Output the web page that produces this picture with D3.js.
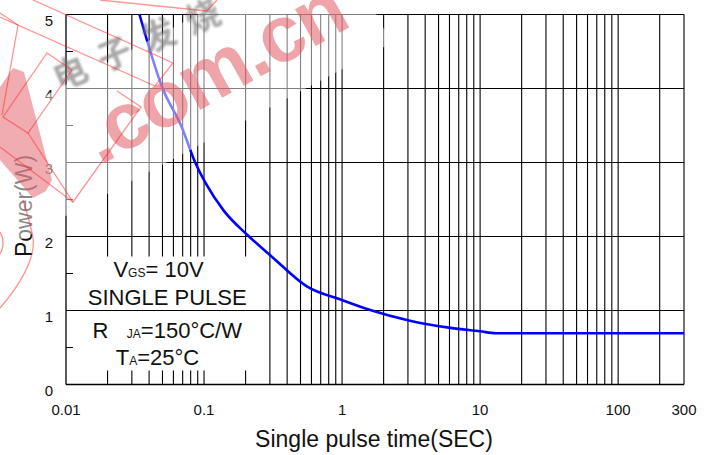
<!DOCTYPE html>
<html>
<head>
<meta charset="utf-8">
<script src="https://cdn.jsdelivr.net/npm/d3@7/dist/d3.min.js"></script>
<style>
  html, body { margin: 0; padding: 0; background: #fff; }
  svg { display: block; font-family: "Liberation Sans", Arial, sans-serif; }
</style>
</head>
<body>
<svg id="chart" width="712" height="455"></svg>
<script>
// Single pulse power rating curve
const pulseTime = [0.034, 0.05, 0.069, 0.086, 0.103, 0.138, 0.21, 0.31, 0.555, 1, 1.6, 3.1, 6.1, 10, 13, 300];
const pulsePower = [5, 4, 3.47, 3, 2.71, 2.35, 2, 1.72, 1.32, 1.135, 1.0, 0.855, 0.758, 0.712, 0.686, 0.685];

const xTickValues = [0.01, 0.1, 1, 10, 100, 300];
const xTickLabels = ["0.01", "0.1", "1", "10", "100", "300"];
const yTickValues = [0, 1, 2, 3, 4, 5];
const yTickLabels = ["0", "1", "2", "3", "4", "5"];
const yMinorTicks = [0.5, 1.5, 2.5, 3.5, 4.5];

const svg = d3.select("#chart");
const W = 712, H = 455;
const plot = { left: 66, right: 684, top: 14, bottom: 384 };

const x = d3.scaleLog().domain([0.01, 300]).range([plot.left, plot.right]);
const y = d3.scaleLinear().domain([0, 5]).range([plot.bottom, plot.top]);

const defs = svg.append("defs");
defs.append("filter").attr("id", "soft")
  .append("feGaussianBlur").attr("stdDeviation", 0.9);

svg.append("rect").attr("width", W).attr("height", H).attr("fill", "#fff");

const g = svg.append("g").attr("transform", "translate(0,0.5)");

// vertical grid: every 1..9 multiple of each decade; lines behind the
// condition note are broken around the text
const noteSpan = { t0: 0.015, t1: 0.25, p0: 0.19, p1: 1.73 };
const vGrid = x.ticks().filter(t => t > 0.01 && t < 300);
vGrid.forEach(t => {
  const xx = x(t);
  const seg = (a, b) => g.append("line").attr("x1", xx).attr("x2", xx)
    .attr("y1", y(a)).attr("y2", y(b))
    .attr("stroke", "#000").attr("stroke-width", 1.1);
  if (t >= noteSpan.t0 && t <= noteSpan.t1) {
    seg(5, noteSpan.p1);
    seg(noteSpan.p0, 0);
  } else {
    seg(5, 0);
  }
});

// horizontal grid
yTickValues.filter(v => v > 0).forEach(v => {
  g.append("line").attr("x1", x(0.01)).attr("x2", x(300))
    .attr("y1", y(v)).attr("y2", y(v))
    .attr("stroke", "#000").attr("stroke-width", 1);
});

// frame
g.append("line").attr("x1", x(0.01)).attr("x2", x(0.01)).attr("y1", y(5)).attr("y2", y(0))
  .attr("stroke", "#000").attr("stroke-width", 1.3);
g.append("line").attr("x1", x(300)).attr("x2", x(300)).attr("y1", y(5)).attr("y2", y(0))
  .attr("stroke", "#000").attr("stroke-width", 1.1);
g.append("line").attr("x1", x(0.01)).attr("x2", x(300)).attr("y1", y(0)).attr("y2", y(0))
  .attr("stroke", "#000").attr("stroke-width", 1.3);

// minor y ticks
yMinorTicks.forEach(v => {
  g.append("line").attr("x1", x(0.01)).attr("x2", x(0.01) + 7)
    .attr("y1", y(v)).attr("y2", y(v))
    .attr("stroke", "#000").attr("stroke-width", 1);
});

// power curve
const line = d3.line()
  .x((d, i) => x(pulseTime[i]))
  .y((d, i) => y(pulsePower[i]))
  .curve(d3.curveMonotoneX);
svg.append("path").datum(pulseTime).attr("d", line)
  .attr("fill", "none").attr("stroke", "#0000ff").attr("stroke-width", 2.6)
  .attr("stroke-linejoin", "round");

// tick labels
yTickValues.forEach((v, i) => {
  svg.append("text").attr("x", 53).attr("y", y(v) + 12)
    .attr("text-anchor", "end").attr("font-size", 15).attr("fill", "#111")
    .text(yTickLabels[i]);
});
xTickValues.forEach((v, i) => {
  svg.append("text").attr("x", x(v)).attr("y", 415)
    .attr("text-anchor", "middle").attr("font-size", 15).attr("fill", "#111")
    .text(xTickLabels[i]);
});

// axis titles
svg.append("text").attr("x", 374).attr("y", 446.5)
  .attr("text-anchor", "middle").attr("font-size", 23).attr("fill", "#111")
  .text("Single pulse time(SEC)");
svg.append("text").attr("transform", "translate(31.5,206) rotate(-90)")
  .attr("text-anchor", "middle").attr("font-size", 23).attr("fill", "#111")
  .text("Power(W)");

// test condition note
function noteLine(cx, base, parts) {
  const t = svg.append("text").attr("x", cx).attr("y", base)
    .attr("text-anchor", "middle").attr("fill", "#111").attr("font-size", 22);
  parts.forEach(p => {
    t.append("tspan").attr("font-size", p[1]).text(p[0]);
  });
}
noteLine(158.5, 276.5, [["V", 22], ["GS", 12], ["= 10V", 22]]);
noteLine(167.2, 305, [["SINGLE PULSE", 22]]);
noteLine(167.3, 338.3, [["R\u00a0\u00a0\u00a0", 22], ["JA", 12], ["=150\u00b0C/W", 22]]);
noteLine(157.5, 365, [["T", 22], ["A", 12], ["=25\u00b0C", 22]]);

// site stamp overlaid on the upper left
const wm = svg.append("g");
wm.append("rect").attr("x", -200).attr("y", -58).attr("width", 420).attr("height", 116)
  .attr("transform", "translate(170,95) rotate(-28)")
  .attr("fill", "#fff").attr("opacity", 0.5);
wm.append("text").attr("transform", "translate(70,70) rotate(-23)")
  .attr("x", -18).attr("dominant-baseline", "central")
  .attr("font-family", "Noto Sans CJK SC").attr("font-weight", 700)
  .attr("font-size", 34).attr("letter-spacing", 14)
  .attr("fill", "#6e6e6e").attr("opacity", 0.6)
  .attr("filter", "url(#soft)")
  .text("电子发烧");
wm.append("text").attr("transform", "translate(128,126) rotate(-29)")
  .attr("x", -44).attr("y", 21)
  .attr("font-weight", 700).attr("font-size", 80).attr("letter-spacing", -2)
  .attr("fill", "#e15a64").attr("opacity", 0.55)
  .text(".com.cn");
wm.append("path")
  .attr("d", "M0,87 L13,68 L24,72 L52,180 L46,191 L33,198 L0,160 Z")
  .attr("fill", "#e15a64").attr("opacity", 0.5);
const outlines = [
  "M33,0 L173,63 L155,86 L0,17",
  "M47,53 L72,70 L28,133 L3,117 Z",
  "M117,91 L141,107 L73,202 L28,133",
  "M0,147 L73,202",
  "M100,0 L207,11 L217,0",
  "M0,13 L18,25 L2,115",
  "M0,308 C20,285 36,258 33,238 C31,225 26,210 23,200",
  "M0,232 C4,238 4,248 0,254"
];
outlines.forEach(d => {
  wm.append("path").attr("d", d).attr("fill", "none")
    .attr("stroke", "#ff2a2a").attr("stroke-width", 1.3).attr("opacity", 0.5);
});
</script>
</body>
</html>
